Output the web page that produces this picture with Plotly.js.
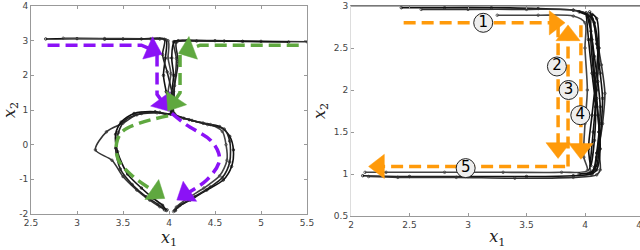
<!DOCTYPE html>
<html><head><meta charset="utf-8">
<script src="https://cdn.plot.ly/plotly-3.0.1.min.js"></script>
<style>html,body{margin:0;padding:0;overflow:hidden;background:#fff}#chart{width:645px;height:250px}</style>
</head><body><div id="chart"></div>
<script>
// ---------- tick labels ----------
const leftXTicks = [2.5, 3, 3.5, 4, 4.5, 5, 5.5];
const leftXTickText = ["2.5", "3", "3.5", "4", "4.5", "5", "5.5"];
const leftYTicks = [-2, -1, 0, 1, 2, 3, 4];
const leftYTickText = ["-2", "-1", "0", "1", "2", "3", "4"];
const rightXTicks = [2, 2.5, 3, 3.5, 4, 4.5];
const rightXTickText = ["2", "2.5", "3", "3.5", "4", "4.5"];
const rightYTicks = [0.5, 1, 1.5, 2, 2.5, 3];
const rightYTickText = ["0.5", "1", "1.5", "2", "2.5", "3"];

// ---------- left panel trajectories (x1, x2) ----------
const leftRun1X = [2.66, 3.0, 3.5, 3.9, 3.97, 3.96, 3.94, 3.97, 4.03, 4.16, 4.37, 4.55, 4.66, 4.70, 4.68, 4.59, 4.41, 4.23, 4.10, 4.07];
const leftRun1Y = [3.05, 3.06, 3.05, 3.05, 3.02, 2.49, 2.00, 1.53, 0.90, 0.76, 0.62, 0.52, 0.24, -0.15, -0.63, -1.02, -1.31, -1.60, -1.79, -1.90];
const leftRun2X = [2.85, 3.3, 3.8, 3.99, 3.99, 4.02, 3.99, 4.01, 4.05, 4.25, 4.45, 4.58, 4.62, 4.63, 4.55, 4.38, 4.20, 4.08, 4.05];
const leftRun2Y = [3.07, 3.06, 3.05, 3.00, 2.50, 2.05, 1.50, 1.10, 0.88, 0.70, 0.58, 0.38, 0.00, -0.45, -0.90, -1.25, -1.55, -1.80, -1.93];
const leftRun3X = [5.50, 5.0, 4.5, 4.10, 4.05, 4.08, 4.07, 4.05, 4.02, 3.87, 3.65, 3.50, 3.32, 3.20, 3.38, 3.50, 3.65, 3.79, 3.90, 3.98];
const leftRun3Y = [2.97, 2.98, 3.00, 3.00, 2.97, 2.49, 2.00, 1.53, 0.90, 0.92, 0.86, 0.62, 0.37, -0.15, -0.45, -0.92, -1.31, -1.60, -1.79, -1.88];
const leftRun4X = [5.30, 4.8, 4.3, 4.06, 4.03, 4.05, 4.03, 4.02, 3.85, 3.62, 3.48, 3.42, 3.44, 3.55, 3.70, 3.83, 3.93, 3.97];
const leftRun4Y = [2.96, 2.98, 2.99, 2.97, 2.50, 2.00, 1.50, 0.88, 0.95, 0.90, 0.65, 0.30, -0.20, -0.85, -1.25, -1.55, -1.75, -1.90];
const leftRun5X = [3.30, 3.70, 3.95, 3.93, 3.98, 4.04, 4.06, 4.22, 4.42, 4.60, 4.66, 4.66, 4.58, 4.45, 4.28, 4.12, 4.06];
const leftRun5Y = [3.04, 3.05, 3.04, 2.60, 2.10, 1.40, 0.89, 0.72, 0.58, 0.45, 0.10, -0.50, -0.95, -1.22, -1.50, -1.75, -1.90];
const leftRun6X = [4.60, 4.20, 4.08, 4.10, 4.06, 4.03, 3.90, 3.70, 3.52, 3.45, 3.42, 3.47, 3.60, 3.75, 3.88, 3.95];
const leftRun6Y = [2.99, 3.00, 2.95, 2.40, 1.70, 0.90, 0.93, 0.90, 0.70, 0.35, -0.10, -0.70, -1.15, -1.50, -1.72, -1.88];

// ---------- right panel trajectories ----------
const rightRun1X = [2.43, 2.8, 3.2, 3.6, 3.9, 4.02, 4.06, 4.08, 4.10, 4.12, 4.10, 4.08, 4.05, 3.9, 3.5, 3.0, 2.5, 2.10];
const rightRun1Y = [2.98, 2.98, 2.98, 2.97, 2.95, 2.90, 2.60, 2.20, 1.90, 1.50, 1.20, 1.05, 1.00, 0.98, 0.97, 0.97, 0.97, 0.98];
const rightRun2X = [2.60, 3.0, 3.5, 3.9, 4.05, 4.10, 4.14, 4.17, 4.15, 4.12, 4.13, 4.10, 3.9, 3.4, 2.9, 2.4, 2.15];
const rightRun2Y = [2.96, 2.96, 2.96, 2.95, 2.88, 2.60, 2.30, 1.96, 1.60, 1.30, 1.05, 0.99, 0.96, 0.95, 0.96, 0.96, 0.97];
const rightRun3X = [3.25, 3.6, 3.9, 4.00, 4.00, 4.02, 4.00, 3.99, 4.02, 3.8, 3.3, 2.8, 2.3, 2.12];
const rightRun3Y = [2.89, 2.89, 2.88, 2.80, 2.50, 2.00, 1.60, 1.20, 1.04, 1.02, 1.02, 1.02, 1.02, 1.02];
const rightRun4X = [4.04, 4.07, 4.10, 4.12, 4.10, 4.06, 4.05, 4.08, 4.11, 4.13, 4.10, 4.06];
const rightRun4Y = [1.05, 1.50, 2.00, 2.50, 2.85, 2.90, 2.60, 2.10, 1.70, 1.30, 1.05, 1.00];
const rightRun5X = [4.01, 4.03, 4.06, 4.09, 4.08, 4.05, 4.03, 4.06, 4.09, 4.11, 4.08, 4.04];
const rightRun5Y = [2.92, 2.60, 2.20, 1.80, 1.40, 1.10, 1.30, 1.70, 2.10, 2.50, 2.80, 2.93];
const rightRun6X = [3.95, 4.06, 4.10, 4.13, 4.15, 4.14, 4.12, 4.10, 4.05, 3.95];
const rightRun6Y = [2.93, 2.85, 2.55, 2.20, 1.90, 1.60, 1.30, 1.10, 1.02, 1.00];
const rightRun7X = [4.02, 4.05, 4.08, 4.11, 4.13, 4.12, 4.10, 4.08, 4.06];
const rightRun7Y = [2.88, 2.70, 2.40, 2.10, 1.80, 1.50, 1.25, 1.08, 1.02];

// ---------- annotation arrows ----------
const purple1X = [2.68, 3.70, 3.82];  const purple1Y = [2.87, 2.87, 2.73];
const purple2X = [3.87, 3.87, 3.94];  const purple2Y = [2.60, 1.45, 1.20];
const purple3X = [4.03, 4.19, 4.45, 4.54, 4.54, 4.41, 4.18]; const purple3Y = [0.90, 0.57, 0.13, -0.25, -0.54, -1.02, -1.43];
const green1X = [5.41, 4.34, 4.21];   const green1Y = [2.87, 2.87, 2.74];
const green2X = [4.12, 4.12, 4.05];   const green2Y = [2.59, 1.50, 1.22];
const green3X = [3.99, 3.68, 3.49, 3.43, 3.45, 3.61, 3.86]; const green3Y = [0.83, 0.62, 0.37, 0.04, -0.44, -0.92, -1.38];
const orange1X = [2.45, 3.66, 3.74];  const orange1Y = [2.80, 2.80, 2.80];
const orange2X = [3.77, 3.77, 3.77];  const orange2Y = [2.77, 1.45, 1.31];
const orange3X = [3.855, 3.855, 3.855]; const orange3Y = [1.09, 2.50, 2.65];
const orange4X = [3.965, 3.965, 3.965]; const orange4Y = [2.77, 1.45, 1.30];
const orange5X = [3.83, 2.32, 2.24];  const orange5Y = [1.09, 1.09, 1.09];

// ---------- circled step numbers ----------
const stepLabels = ["1", "2", "3", "4", "5"];
const stepX = [3.13, 3.76, 3.86, 3.96, 2.98];
const stepY = [2.80, 2.28, 2.00, 1.70, 1.07];

const PURPLE = '#8b12f6', GREEN = '#5fa83f', ORANGE = '#ff9a0a';

function run(x, y, xa, ya, col) {
  return {x, y, xaxis: xa, yaxis: ya, type: 'scatter', mode: 'lines+markers',
    line: {color: col || '#111', width: 1.6, shape: 'spline', smoothing: 0.8},
    marker: {symbol: 'circle-open', size: 2.5, color: col || '#111', line: {width: 0.8}},
    hoverinfo: 'skip', showlegend: false};
}
function arrow(x, y, xa, ya, col, curved) {
  const sizes = x.map((v, i) => i === x.length - 1 ? 21 : 0);
  return {x, y, xaxis: xa, yaxis: ya, type: 'scatter', mode: 'lines+markers',
    line: {color: col, width: 3.5, dash: '12px,6px', shape: curved ? 'spline' : 'linear'},
    marker: {symbol: 'triangle-up', size: sizes, color: col, opacity: 1, angleref: 'previous',
             line: {width: 0.5, color: col}},
    hoverinfo: 'skip', showlegend: false};
}

const traces = [
  run(leftRun1X, leftRun1Y, 'x', 'y'),
  run(leftRun2X, leftRun2Y, 'x', 'y', '#444'),
  run(leftRun3X, leftRun3Y, 'x', 'y', '#333'),
  run(leftRun4X, leftRun4Y, 'x', 'y'),
  run(leftRun5X, leftRun5Y, 'x', 'y', '#222'),
  run(leftRun6X, leftRun6Y, 'x', 'y', '#222'),
  run(rightRun1X, rightRun1Y, 'x2', 'y2'),
  run(rightRun2X, rightRun2Y, 'x2', 'y2', '#333'),
  run(rightRun3X, rightRun3Y, 'x2', 'y2', '#444'),
  run(rightRun4X, rightRun4Y, 'x2', 'y2'),
  run(rightRun5X, rightRun5Y, 'x2', 'y2'),
  run(rightRun6X, rightRun6Y, 'x2', 'y2'),
  run(rightRun7X, rightRun7Y, 'x2', 'y2'),
  arrow(purple1X, purple1Y, 'x', 'y', PURPLE),
  arrow(purple2X, purple2Y, 'x', 'y', PURPLE),
  arrow(purple3X, purple3Y, 'x', 'y', PURPLE, true),
  arrow(green1X, green1Y, 'x', 'y', GREEN),
  arrow(green2X, green2Y, 'x', 'y', GREEN),
  arrow(green3X, green3Y, 'x', 'y', GREEN, true),
  arrow(orange1X, orange1Y, 'x2', 'y2', ORANGE),
  arrow(orange2X, orange2Y, 'x2', 'y2', ORANGE),
  arrow(orange3X, orange3Y, 'x2', 'y2', ORANGE),
  arrow(orange4X, orange4Y, 'x2', 'y2', ORANGE),
  arrow(orange5X, orange5Y, 'x2', 'y2', ORANGE),
  {x: stepX, y: stepY, xaxis: 'x2', yaxis: 'y2', type: 'scatter', mode: 'markers+text',
   text: stepLabels, textposition: 'middle center',
   textfont: {family: 'DejaVu Sans', size: 15, color: '#000'},
   marker: {symbol: 'circle', size: 19, color: '#eeeeee', line: {color: '#222', width: 1}},
   hoverinfo: 'skip', showlegend: false}
];

const tickFont = {family: 'DejaVu Sans', size: 9, color: '#444'};
const titleFont = {family: 'DejaVu Serif', size: 16, color: '#222'};
function ax(extra) {
  return Object.assign({ticks: 'inside', ticklen: 3, tickcolor: '#999', showline: true,
    linecolor: '#999', linewidth: 1, mirror: 'ticks', showgrid: false, zeroline: false,
    tickfont: tickFont, tickmode: 'array', autorange: false, fixedrange: true,
    ticklabeloverflow: 'allow'}, extra);
}

const W = 645, H = 250;
const layout = {
  width: W, height: H, margin: {l: 0, r: 0, t: 0, b: 0},
  paper_bgcolor: '#fff', plot_bgcolor: '#fff', showlegend: false,
  xaxis: ax({domain: [31 / W, 307 / W], range: [2.5, 5.5], tickvals: leftXTicks, ticktext: leftXTickText, anchor: 'y',
    title: {text: '<i>x</i><sub>1</sub>', font: titleFont, standoff: 2}}),
  yaxis: ax({domain: [36 / H, 244 / H], range: [-2, 4], tickvals: leftYTicks, ticktext: leftYTickText, anchor: 'x',
    title: {text: '<i>x</i><sub>2</sub>', font: titleFont, standoff: 4}}),
  xaxis2: ax({domain: [351 / W, 643.5 / W], range: [2, 4.5], tickvals: rightXTicks, ticktext: rightXTickText, anchor: 'y2',
    title: {text: '<i>x</i><sub>1</sub>', font: titleFont, standoff: 2}}),
  yaxis2: ax({domain: [34 / H, 244 / H], range: [0.5, 3], tickvals: rightYTicks, ticktext: rightYTickText, anchor: 'x2',
    linecolor: '#ddd', title: {text: '<i>x</i><sub>2</sub>', font: titleFont, standoff: 4}}),
  shapes: [{type: 'line', xref: 'x2 domain', yref: 'y2 domain', x0: 0, x1: 1, y0: 1, y1: 1,
    line: {color: '#555', width: 1}}]
};

Plotly.newPlot('chart', traces, layout, {staticPlot: true, displayModeBar: false});
</script></body></html>
